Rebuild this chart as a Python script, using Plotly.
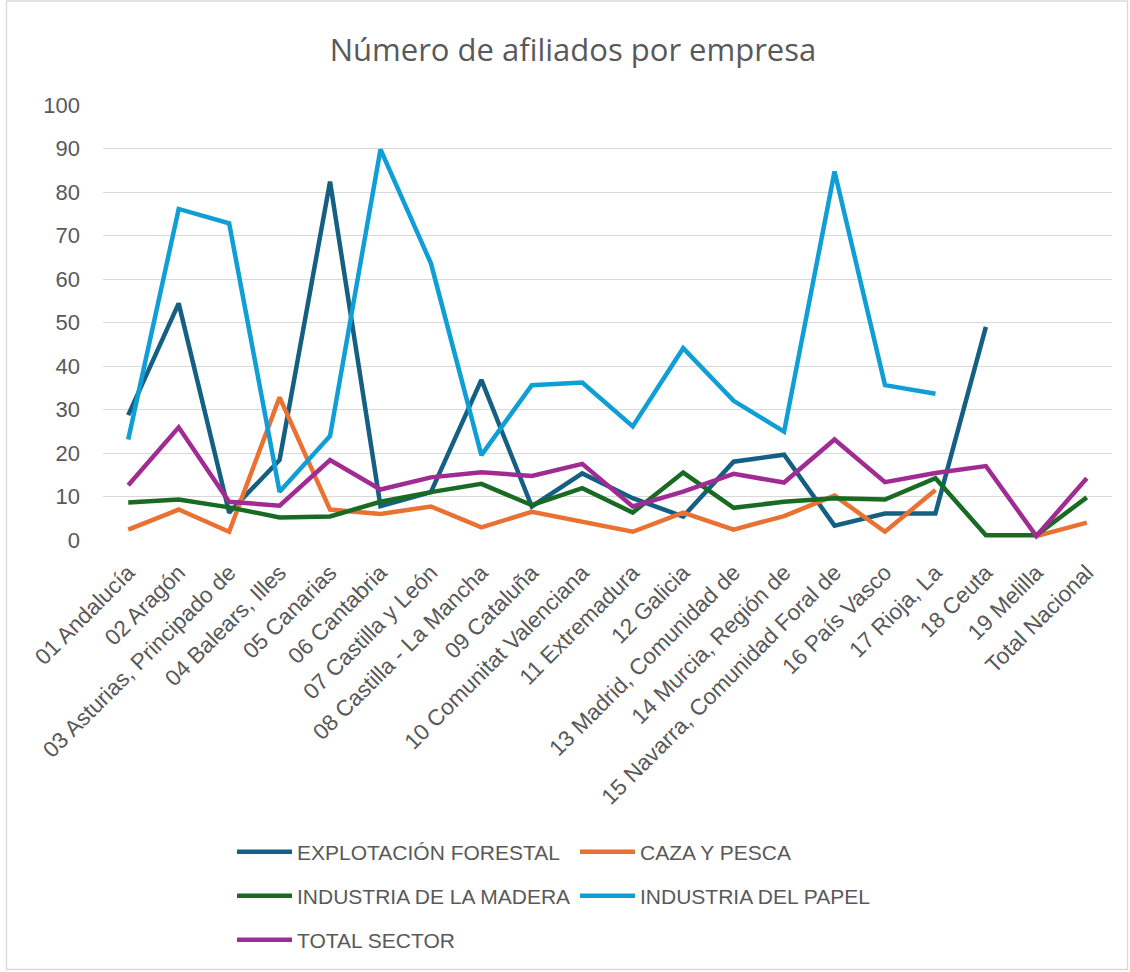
import plotly.graph_objects as go

categories = [
    "01 Andalucía", "02 Aragón", "03 Asturias, Principado de", "04 Balears, Illes",
    "05 Canarias", "06 Cantabria", "07 Castilla y León", "08 Castilla - La Mancha",
    "09 Cataluña", "10 Comunitat Valenciana", "11 Extremadura", "12 Galicia",
    "13 Madrid, Comunidad de", "14 Murcia, Región de", "15 Navarra, Comunidad Foral de",
    "16 País Vasco", "17 Rioja, La", "18 Ceuta", "19 Melilla", "Total Nacional",
]

explotacion_forestal = [28.7, 54.4, 6.3, 18.4, 82.4, 7.8, 11.0, 36.8, 7.7, 15.3,
                        9.6, 5.4, 18.0, 19.6, 3.3, 6.1, 6.1, 49.0, None, None]
caza_y_pesca = [2.4, 7.0, 1.9, 32.8, 7.0, 6.0, 7.7, 2.9, 6.5, 4.2,
                1.9, 6.3, 2.4, 5.5, 10.2, 1.9, 11.5, None, 0.9, 4.0]
industria_madera = [8.6, 9.3, 7.5, 5.2, 5.4, 8.8, 11.0, 12.9, 8.0, 11.9,
                    6.3, 15.5, 7.4, 8.8, 9.6, 9.3, 14.2, 1.1, 1.1, 9.8]
industria_papel = [23.1, 76.1, 72.8, 11.1, 23.9, 89.8, 63.6, 19.5, 35.6, 36.2,
                   26.1, 44.1, 32.0, 24.9, 84.7, 35.6, 33.6, None, None, None]
total_sector = [12.6, 25.9, 8.8, 7.9, 18.4, 11.6, 14.4, 15.6, 14.7, 17.5,
                7.7, 11.1, 15.2, 13.2, 23.1, 13.3, 15.4, 17.0, 0.9, 14.2]

series = [
    ("EXPLOTACIÓN FORESTAL", explotacion_forestal, "#156082", "legend"),
    ("CAZA Y PESCA", caza_y_pesca, "#E97132", "legend"),
    ("INDUSTRIA DE LA MADERA", industria_madera, "#196B24", "legend2"),
    ("INDUSTRIA DEL PAPEL", industria_papel, "#0F9ED5", "legend2"),
    ("TOTAL SECTOR", total_sector, "#A02B93", "legend3"),
]

W, H = 1130, 972
ML, MR, MT, MB = 103, 18, 105, 432
pw = W - ML - MR
ph = H - MT - MB


def px_x(px):
    return (px - ML) / pw


def px_y(py):
    return (H - MB - py) / ph


fig = go.Figure()
for name, vals, color, lg in series:
    fig.add_trace(go.Scatter(
        x=categories, y=vals, name=name, mode="lines",
        line=dict(color=color, width=4.5),
        connectgaps=False, legend=lg,
    ))

legend_common = dict(
    orientation="h", xref="container", yref="container",
    x=232 / W, xanchor="left", yanchor="middle",
    entrywidth=273, entrywidthmode="pixels", itemwidth=55,
    font=dict(size=21, color="#595959", family="Liberation Sans, Arial, sans-serif"),
    bgcolor="rgba(0,0,0,0)",
)

fig.update_layout(
    width=W, height=H,
    margin=dict(l=ML, r=MR, t=MT, b=MB),
    paper_bgcolor="white", plot_bgcolor="white",
    title=dict(
        text="Número de afiliados por empresa",
        x=573 / W, xanchor="center", xref="container",
        y=1 - 50 / H, yanchor="middle", yref="container",
        font=dict(size=31, color="#595959", family="Open Sans, Noto Sans, sans-serif"),
    ),
    font=dict(family="Liberation Sans, Arial, sans-serif", color="#595959", size=22),
    xaxis=dict(
        type="category", range=[-0.5, len(categories) - 0.5],
        tickangle=-45, showgrid=False, showline=False, ticks="",
        tickfont=dict(size=22.5, color="#595959"),
        ticklabelstandoff=14,
    ),
    yaxis=dict(
        range=[0, 100], dtick=10, tick0=0,
        showgrid=True, gridcolor="#D9D9D9", gridwidth=1.3,
        zeroline=False, showline=False, ticks="",
        tickfont=dict(size=22, color="#595959"),
        ticklabelstandoff=22,
    ),
    legend=dict(legend_common, y=1 - 852 / H),
    legend2=dict(legend_common, y=1 - 896 / H),
    legend3=dict(legend_common, y=1 - 940 / H),
    showlegend=True,
)

# chart-area border
fig.add_shape(
    type="rect", xref="paper", yref="paper",
    x0=px_x(6.5), x1=px_x(1127.5), y0=px_y(969.5), y1=px_y(1),
    line=dict(color="#D9D9D9", width=1.3), fillcolor="rgba(0,0,0,0)", layer="below",
)

fig.write_html(
    "out.html",
    config={"displayModeBar": False},
    post_script="document.body.style.margin='0px';",
)
